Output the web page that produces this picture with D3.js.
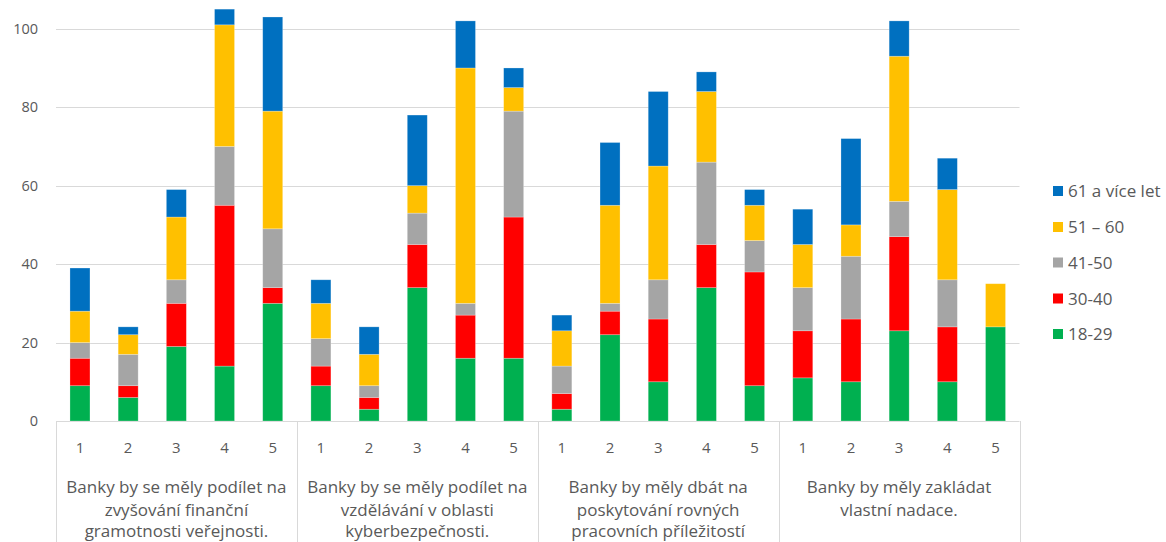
<!DOCTYPE html>
<html>
<head>
<meta charset="utf-8">
<script src="https://cdn.jsdelivr.net/npm/d3@7"></script>
<style>
  html, body { margin: 0; padding: 0; background: #fff; }
  svg { display: block; }
  text { font-family: "Open Sans", "Noto Sans", sans-serif; fill: #595959; }
</style>
</head>
<body>
<svg id="chart" width="1166" height="542"></svg>
<script>
// ---- data ----
const groups = [
  ["Banky by se měly podílet na", "zvyšování finanční", "gramotnosti veřejnosti."],
  ["Banky by se měly podílet na", "vzdělávání v oblasti", "kyberbezpečnosti."],
  ["Banky by měly dbát na", "poskytování rovných", "pracovních příležitostí"],
  ["Banky by měly zakládat", "vlastní nadace."]
];
const ratings = ["1", "2", "3", "4", "5"];
const seriesNames = ["18-29", "30-40", "41-50", "51 – 60", "61 a více let"];
const seriesColors = ["#00B050", "#FF0000", "#A5A5A5", "#FFC000", "#0070C0"];
// values per series, 20 entries: group1 r1..r5, group2 r1..r5, ...
const s18_29 = [9, 6, 19, 14, 30,   9, 3, 34, 16, 16,   3, 22, 10, 34, 9,   11, 10, 23, 10, 24];
const s30_40 = [7, 3, 11, 41, 4,    5, 3, 11, 11, 36,   4, 6, 16, 11, 29,   12, 16, 24, 14, 0];
const s41_50 = [4, 8, 6, 15, 15,    7, 3, 8, 3, 27,     7, 2, 10, 21, 8,    11, 16, 9, 12, 0];
const s51_60 = [8, 5, 16, 31, 30,   9, 8, 7, 60, 6,     9, 25, 29, 18, 9,   11, 8, 37, 23, 11];
const s61 =    [11, 2, 7, 4, 24,    6, 7, 18, 12, 5,    4, 16, 19, 5, 4,    9, 22, 9, 8, 0];
const yTicks = [0, 20, 40, 60, 80, 100];

const seriesValues = [s18_29, s30_40, s41_50, s51_60, s61];

// ---- layout ----
const svg = d3.select("#chart");
const plotLeft = 56, plotRight = 1019.5, baseY = 421, topY = 28.75;

const keys = [];
groups.forEach((g, gi) => ratings.forEach((r, ri) => keys.push(gi + "-" + ri)));

const rows = keys.map((k, i) => {
  const o = { key: k };
  seriesNames.forEach((s, si) => o[s] = seriesValues[si][i]);
  return o;
});

const x = d3.scaleBand().domain(keys).range([plotLeft, plotRight]).paddingInner(0.585).paddingOuter(0.29);
const gx = d3.scaleBand().domain(d3.range(groups.length)).range([plotLeft, plotRight]);
const y = d3.scaleLinear().domain([0, 100]).range([baseY, topY]);

// gridlines
svg.append("g").selectAll("line").data(yTicks).join("line")
  .attr("x1", plotLeft).attr("x2", plotRight)
  .attr("y1", d => Math.round(y(d)) + 0.5).attr("y2", d => Math.round(y(d)) + 0.5)
  .attr("stroke", "#D9D9D9").attr("stroke-width", 1);

// y axis labels
const yAxis = d3.axisLeft(y).tickValues(yTicks).tickSize(0).tickPadding(0);
const ya = svg.append("g").attr("transform", `translate(38,0)`).call(yAxis);
ya.select(".domain").remove();
ya.selectAll("text").style("font-size", "14.5px").attr("fill", "#595959")
  .style("font-family", "'Open Sans', sans-serif");

// stacked bars
const stack = d3.stack().keys(seriesNames)(rows);
svg.append("g").selectAll("g").data(stack).join("g")
  .attr("fill", (d, i) => seriesColors[i])
  .selectAll("rect").data(d => d.filter(p => p[1] - p[0] > 0)).join("rect")
  .attr("x", d => x(d.data.key))
  .attr("width", x.bandwidth())
  .attr("y", d => y(d[1]))
  .attr("height", d => y(d[0]) - y(d[1]))
  .attr("stroke", "rgba(255,255,255,0.35)").attr("stroke-width", 0.7);

// category axis: inner tick labels
const xa = svg.append("g");
xa.selectAll("text.r").data(rows).join("text").attr("class", "r")
  .attr("x", d => x(d.key) + x.bandwidth() / 2)
  .attr("y", 452.5)
  .attr("text-anchor", "middle")
  .style("font-size", "15px")
  .text(d => ratings[+d.key.split("-")[1]]);

// group separators
const bounds = d3.range(groups.length + 1).map(i => i < groups.length ? gx(i) : gx.range()[1]);
xa.selectAll("line.sep").data(bounds).join("line").attr("class", "sep")
  .attr("x1", d => Math.round(d) + 0.5).attr("x2", d => Math.round(d) + 0.5)
  .attr("y1", baseY).attr("y2", 542)
  .attr("stroke", "#D9D9D9");

// group labels
const lineYs = [493, 516, 537];
groups.forEach((g, gi) => {
  const cx = gx(gi) + gx.bandwidth() / 2;
  g.forEach((ln, li) => {
    xa.append("text").attr("x", cx).attr("y", lineYs[li])
      .attr("text-anchor", "middle").style("font-size", "17px").text(ln);
  });
});

// legend
const legY = [191, 227, 262.5, 298.5, 334];
const legendOrder = [4, 3, 2, 1, 0];
const leg = svg.append("g");
legendOrder.forEach((si, i) => {
  leg.append("rect").attr("x", 1053).attr("y", legY[i] - 5).attr("width", 10).attr("height", 10)
    .attr("fill", seriesColors[si]);
  leg.append("text").attr("x", 1068).attr("y", legY[i] + 6).style("font-size", "17px").text(seriesNames[si]);
});
</script>
</body>
</html>
